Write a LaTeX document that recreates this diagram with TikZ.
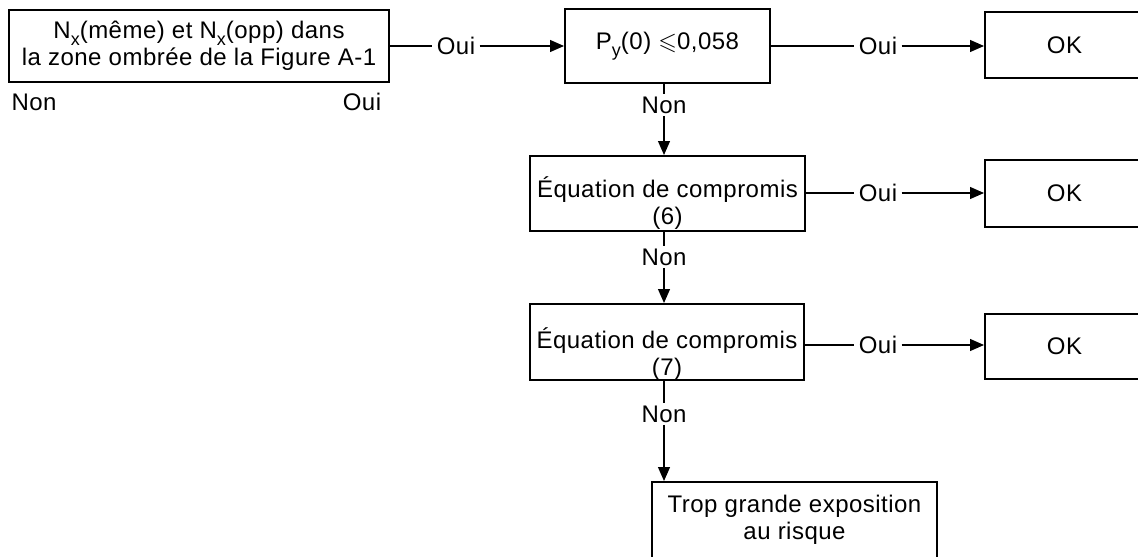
\documentclass[tikz,border=0pt]{standalone}
\usepackage{fontspec}
\setmainfont{Liberation Sans}[LetterSpace=2]
\usepackage{amssymb}
\usetikzlibrary{arrows.meta}
\newcommand{\lowidx}[1]{\raisebox{-0.55ex}{\fontsize{9pt}{9pt}\selectfont #1}}
\tikzstyle{block}=[
    draw,
    line width = 1pt,
    rectangle,
    align = center,
    inner sep = 2pt
]

\begin{document}
\begin{tikzpicture}[x=0.5pt, y=-0.5pt, font=\fontsize{12pt}{13.5pt}\selectfont,
    lbl/.style = {inner xsep=2pt, inner ysep=1pt},
    pre/.style = {line width=1pt},
    flow/.style = {line width=0.6pt, -{Triangle[length=7pt, width=6pt]}}]
        \useasboundingbox (0,0) rectangle (1138,556);

        \node[block, minimum width=190pt, minimum height=36pt] (cond1) at (199,46) {N\lowidx{x}(même) et N\lowidx{x}(opp) dans\\la zone ombrée de la Figure A-1};
        \node[block, minimum width=102.5pt, minimum height=37pt] (py) at (667.5,46) {P\lowidx{y}(0) $\leqslant$0,058};
        \node[block, minimum width=79.5pt, minimum height=33pt] (ok1) at (1064.5,45) {OK};
        \node[block, minimum width=137.5pt, minimum height=37.5pt,
              label={[align=center, yshift=-5pt]center:{Équation de compromis\\(6)}}] (eq6) at (667.5,193.5) {};
        \node[block, minimum width=79.5pt, minimum height=33.5pt] (ok2) at (1064.5,193.5) {OK};
        \node[block, minimum width=137pt, minimum height=38pt,
              label={[align=center, yshift=-6pt]center:{Équation de compromis\\(7)}}] (eq7) at (667,342) {};
        \node[block, minimum width=79.5pt, minimum height=32.5pt] (ok3) at (1064.5,346.5) {OK};
        \node[block, minimum width=142.5pt, minimum height=38pt] (risk) at (794.5,520) {Trop grande exposition\\au risque};

        \node[lbl] (lnon) at (34,102) {Non};
        \node[lbl] (loui) at (362,102) {Oui};
        \node[lbl] (oui1) at (456,46) {Oui};
        \node[lbl] (oui2) at (878,46) {Oui};
        \node[lbl] (oui3) at (878,193) {Oui};
        \node[lbl] (oui4) at (878,345) {Oui};
        \node[lbl] (non1) at (664,105) {Non};
        \node[lbl] (non2) at (664,257) {Non};
        \node[lbl] (non3) at (664,414) {Non};

        \draw[pre] (cond1.east) -- (oui1);
        \draw[flow] (oui1) -- (py.west);
        \draw[pre] (py.east) -- (oui2);
        \draw[flow] (oui2) -- (oui2 -| ok1.west);
        \draw[pre] (non1 |- py.south) -- (non1);
        \draw[flow] (non1) -- (non1 |- eq6.north);
        \draw[pre] (oui3 -| eq6.east) -- (oui3);
        \draw[flow] (oui3) -- (oui3 -| ok2.west);
        \draw[pre] (non2 |- eq6.south) -- (non2);
        \draw[flow] (non2) -- (non2 |- eq7.north);
        \draw[pre] (oui4 -| eq7.east) -- (oui4);
        \draw[flow] (oui4) -- (oui4 -| ok3.west);
        \draw[pre] (non3 |- eq7.south) -- (non3);
        \draw[flow] (non3) -- (non3 |- risk.north);

    \end{tikzpicture}
\end{document}
